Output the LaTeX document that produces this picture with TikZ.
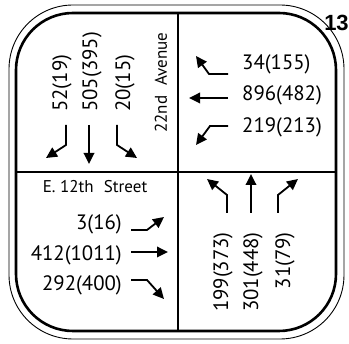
\documentclass[tikz,border=0pt]{standalone}
\usepackage{fontspec}
\setmainfont{PT Sans}
\newfontfamily\boldhead{Liberation Sans}
\usetikzlibrary{arrows.meta}
\begin{document}
\begin{tikzpicture}[x=1pt,y=-1pt,
  vol/.style={font=\fontsize{20.8}{20.8}\selectfont, inner sep=0pt},
  street/.style={font=\fontsize{17}{17}\selectfont, inner sep=0pt},
  mv/.style={line width=1.8pt, -{Triangle[length=11pt,width=10.5pt]}},
  frame/.style={line width=2.6pt},
  thin/.style={line width=0.9pt},
  divider/.style={line width=2pt}]
\useasboundingbox (0,0) rectangle (349,344);
% frame
\draw[thin, rounded corners=64pt] (9,5) rectangle (344,339);
\draw[frame, rounded corners=57pt] (16,13) rectangle (336,331);
\coordinate (ctr) at (177.5,172);
\coordinate (top) at (177.5,13);
\coordinate (bot) at (177.5,331);
\coordinate (lft) at (16,172);
\coordinate (rgt) at (336,172);
\draw[divider] (top) -- (bot);
\draw[divider] (lft) -- (rgt);
\node[font=\boldhead\bfseries\fontsize{22}{22}\selectfont, inner sep=0pt] (num) at (336.5,23) {13};
% top-left: southbound
\node[vol, rotate=90, anchor=west] (s1) at (62,112) {52(19)};
\node[vol, rotate=90, anchor=west] (s2) at (92,112) {505(395)};
\node[vol, rotate=90, anchor=west] (s3) at (125,112) {20(15)};
\node[street, rotate=90, anchor=west] (ave) at (161,133) {22nd\hspace{0.6em}Avenue};
\coordinate (sa1) at (66,125); \coordinate (sb1) at (66,145); \coordinate (st1) at (46,158);
\coordinate (sa2) at (89,125); \coordinate (st2) at (89,164);
\coordinate (sa3) at (117,125); \coordinate (sb3) at (117,145); \coordinate (st3) at (137,158);
\draw[mv] (sa1) -- (sb1) -- (st1);
\draw[mv] (sa2) -- (st2);
\draw[mv] (sa3) -- (sb3) -- (st3);
% top-right: westbound
\node[vol, anchor=west] (w1) at (242,64) {34(155)};
\node[vol, anchor=west] (w2) at (242,95) {896(482)};
\node[vol, anchor=west] (w3) at (242,127) {219(213)};
\coordinate (wa1) at (228,74); \coordinate (wb1) at (209,74); \coordinate (wt1) at (196,56);
\coordinate (wa2) at (228,98); \coordinate (wt2) at (189,98);
\coordinate (wa3) at (228,126); \coordinate (wb3) at (210,126); \coordinate (wt3) at (196,145);
\draw[mv] (wa1) -- (wb1) -- (wt1);
\draw[mv] (wa2) -- (wt2);
\draw[mv] (wa3) -- (wb3) -- (wt3);
% bottom-left: eastbound
\node[street] (st) at (95,187) {E. 12th\hspace{0.6em}Street};
\node[vol, anchor=east] (e1) at (122,224) {3(16)};
\node[vol, anchor=east] (e2) at (122,255) {412(1011)};
\node[vol, anchor=east] (e3) at (122,285) {292(400)};
\coordinate (ea1) at (131,230); \coordinate (eb1) at (147,230); \coordinate (et1) at (164,217);
\coordinate (ea2) at (131,252); \coordinate (et2) at (168,252);
\coordinate (ea3) at (131,280); \coordinate (eb3) at (147,280); \coordinate (et3) at (164,299);
\draw[mv] (ea1) -- (eb1) -- (et1);
\draw[mv] (ea2) -- (et2);
\draw[mv] (ea3) -- (eb3) -- (et3);
% bottom-right: northbound
\node[vol, rotate=90, anchor=east] (n1) at (223,232) {199(373)};
\node[vol, rotate=90, anchor=east] (n2) at (253,232) {301(448)};
\node[vol, rotate=90, anchor=east] (n3) at (285,232) {31(79)};
\coordinate (na1) at (227,213); \coordinate (nb1) at (227,195); \coordinate (nt1) at (207,179);
\coordinate (na2) at (251,213); \coordinate (nt2) at (251,174);
\coordinate (na3) at (278,213); \coordinate (nb3) at (278,195); \coordinate (nt3) at (298,179);
\draw[mv] (na1) -- (nb1) -- (nt1);
\draw[mv] (na2) -- (nt2);
\draw[mv] (na3) -- (nb3) -- (nt3);
\end{tikzpicture}
\end{document}
